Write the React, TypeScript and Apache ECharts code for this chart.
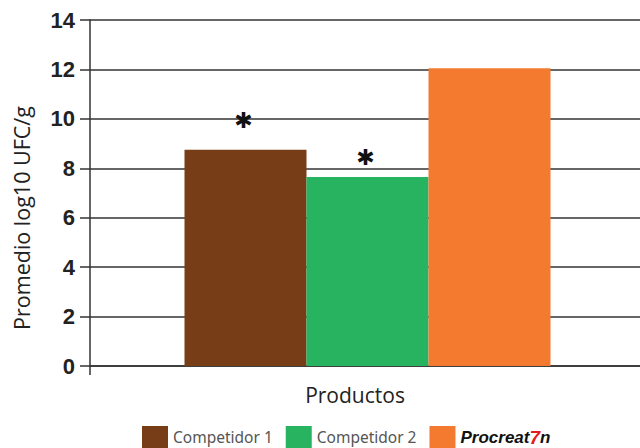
import React, { useEffect, useRef } from "react";
import * as echarts from "echarts";

const categories = ["Productos"];
const seriesNames = ["Competidor 1", "Competidor 2", "Procreatin 7"];
const seriesValues = [[8.75], [7.65], [12.05]];
const seriesColors = ["#763d17", "#27b35f", "#f37a2e"];
const significance = [true, true, false];
const yTicks = [0, 2, 4, 6, 8, 10, 12, 14];
const yAxisTitle = "Promedio log10 UFC/g";
const xAxisTitle = "Productos";

export default function App() {
  const ref = useRef<HTMLDivElement>(null);
  useEffect(() => {
    if (!ref.current) return;
    const chart = echarts.init(ref.current, undefined, { renderer: "svg" });
    const labelDist = [18, 8, 0];
    const option: any = {
      animation: false,
      backgroundColor: "#ffffff",
      grid: {
        left: 90,
        width: 555,
        top: 20,
        bottom: 82,
        outerBoundsMode: "none",
        containLabel: false,
      },
      legend: {
        left: 142,
        top: 426,
        padding: 0,
        itemWidth: 26,
        itemHeight: 22,
        itemGap: 13,
        icon: "rect",
        data: seriesNames,
        formatter: (name: string) =>
          name === "Procreatin 7" ? "{logo|Procreat}{seven|7}{logo|n}" : name,
        textStyle: {
          color: "#555555",
          fontSize: 15.5,
          lineHeight: 22,
          fontFamily: "Noto Sans",
          rich: {
            logo: {
              fontSize: 17,
              lineHeight: 22,
              fontWeight: "bold",
              fontStyle: "italic",
              color: "#111111",
              fontFamily: "Liberation Sans",
            },
            seven: {
              fontSize: 19,
              lineHeight: 22,
              fontWeight: "bold",
              fontStyle: "italic",
              color: "#e0201b",
              fontFamily: "Liberation Sans",
            },
          },
        },
      },
      xAxis: {
        type: "category",
        data: categories,
        axisLine: { show: true, lineStyle: { color: "#333333", width: 1.5 } },
        axisTick: { show: true, length: 9, lineStyle: { color: "#333333", width: 1.5 } },
        axisLabel: { show: false },
        splitLine: { show: false },
      },
      yAxis: {
        type: "value",
        min: yTicks[0],
        max: yTicks[yTicks.length - 1],
        interval: 2,
        axisLine: { show: true, lineStyle: { color: "#333333", width: 1.5 } },
        axisTick: { show: true, length: 10, lineStyle: { color: "#333333", width: 1.5 } },
        axisLabel: {
          margin: 15,
          color: "#222222",
          fontSize: 22,
          fontWeight: "bold",
          fontFamily: "Liberation Sans",
        },
        splitLine: { show: true, lineStyle: { color: "#333333", width: 1.5 } },
      },
      series: seriesNames.map((name, i) => ({
        name,
        type: "bar",
        barWidth: 122,
        barGap: "0%",
        itemStyle: { color: seriesColors[i] },
        data: seriesValues[i].map((v) => ({
          value: v,
          label: {
            show: significance[i],
            position: "top",
            distance: labelDist[i],
            offset: [-2, 0],
            formatter: "✱",
            fontSize: 22,
            lineHeight: 22,
            color: "#111111",
            fontFamily: "DejaVu Sans",
          },
        })),
      })),
      graphic: [
        {
          type: "text",
          x: 21,
          y: 218,
          rotation: Math.PI / 2,
          style: {
            text: yAxisTitle,
            align: "center",
            verticalAlign: "middle",
            fontSize: 21.5,
            fontFamily: "Open Sans",
            fill: "#222222",
          },
        },
        {
          type: "text",
          x: 355,
          y: 395,
          style: {
            text: xAxisTitle,
            align: "center",
            verticalAlign: "middle",
            fontSize: 21,
            fontFamily: "Open Sans",
            fill: "#222222",
          },
        },
      ],
    };
    chart.setOption(option);
    return () => chart.dispose();
  }, []);
  return (
    <div
      ref={ref}
      style={{ position: "fixed", left: 0, top: 0, width: 640, height: 448 }}
    />
  );
}
